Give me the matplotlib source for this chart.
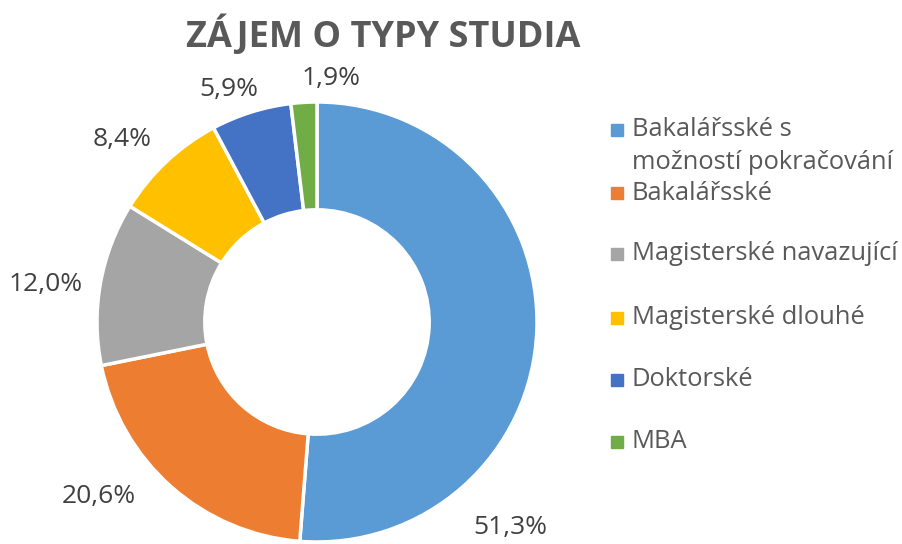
import matplotlib.pyplot as plt

categories = ["Bakalářsské s\nmožností pokračování", "Bakalářsské",
              "Magisterské navazující", "Magisterské dlouhé", "Doktorské", "MBA"]
shares = [51.3, 20.6, 12.0, 8.4, 5.9, 1.9]

colors = ["#5B9BD5", "#ED7D31", "#A5A5A5", "#FFC000", "#4472C4", "#70AD47"]
# label centres in data units (radius = 1), placed by hand like in the original
label_pos = [(0.88, -0.936), (-0.99, -0.795), (-1.232, 0.17),
             (-0.886, 0.83), (-0.40, 1.055), (0.063, 1.109)]

plt.rcParams['font.family'] = ['Open Sans', 'DejaVu Sans']

W, H = 903, 544
fig = plt.figure(figsize=(W / 100, H / 100), dpi=100)
cx, cy, r = 317, 322, 220
ax = fig.add_axes([(cx - r) / W, (H - cy - r) / H, 2 * r / W, 2 * r / H])

wedges, _ = ax.pie(shares, colors=colors, startangle=90, counterclock=False,
                   radius=1, wedgeprops=dict(width=0.49, edgecolor="white", linewidth=2.5))
ax.set_xlim(-1, 1)
ax.set_ylim(-1, 1)
ax.axis("off")

for val, (lx, ly) in zip(shares, label_pos):
    ax.text(lx, ly, f"{val:.1f}%".replace(".", ","), ha="center", va="center",
            fontsize=19, color="#404040", clip_on=False)

fig.text(383 / W, 1 - 36 / H, "ZÁJEM O TYPY STUDIA", ha="center", va="center",
         fontsize=26, fontweight="bold", color="#595959")

# legend drawn by hand
leg_y = [130, 193, 254, 318, 380, 442]
for lab, col, y in zip(categories, colors, leg_y):
    fig.patches.append(plt.Rectangle((611 / W, 1 - (y + 6) / H), 12 / W, 12 / H,
                                     transform=fig.transFigure, color=col))
    for k, line in enumerate(lab.split("\n")):
        fig.text(632 / W, 1 - (y + 33 * k) / H, line, ha="left", va="center",
                 fontsize=18.4, color="#595959")

fig.savefig("out.png", dpi=100)
